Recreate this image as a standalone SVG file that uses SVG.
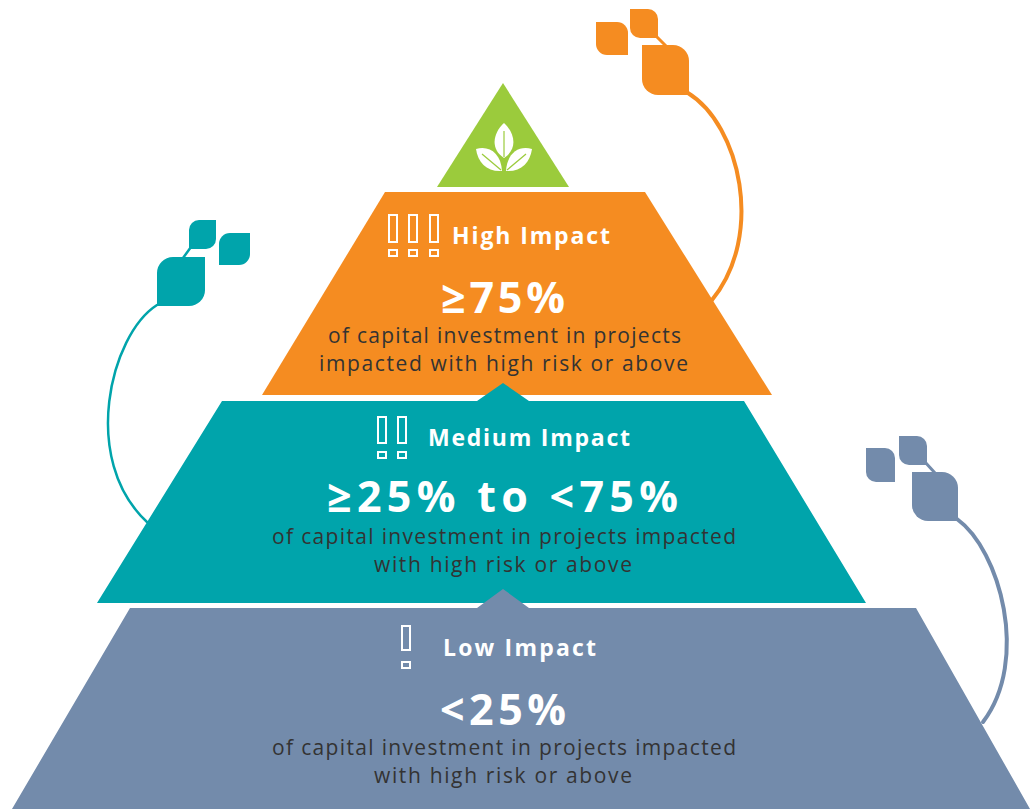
<svg xmlns="http://www.w3.org/2000/svg" width="1030" height="809" viewBox="0 0 1030 809">
  <style>
    .orange { fill: #F58C21; }
    .teal { fill: #00A4AB; }
    .slate { fill: #738BAB; }
    .green { fill: #9BCB3C; }
    .stem { fill: none; stroke-linecap: round; }
    .icon { fill: none; stroke: #FFFFFF; stroke-width: 2; }
    .title { font-family: "Open Sans", "Liberation Sans", sans-serif; font-weight: 700; font-size: 23px; fill: #FFFFFF; }
    .big { font-family: "Open Sans", "Liberation Sans", sans-serif; font-weight: 700; font-size: 43px; fill: #FFFFFF; }
    .desc { font-family: "Open Sans", "Liberation Sans", sans-serif; font-size: 21px; fill: #333333; }
  </style>
  <rect width="1030" height="809" fill="#FFFFFF"/>

  <!-- vines (behind the tiers) -->
  <g id="connectors">
    <path class="stem" d="M688,93 C740,125 765,235 712,300" stroke="#F58C21" stroke-width="4"/>
    <path class="stem" d="M656,36 L666,46" stroke="#F58C21" stroke-width="3"/>
    <path class="stem" d="M157,305 C110,335 80,460 147,522" stroke="#00A4AB" stroke-width="2.5"/>
    <path class="stem" d="M191,247 L183,258" stroke="#00A4AB" stroke-width="2.5"/>
    <path class="stem" d="M957,519 C1000,550 1030,660 983,722" stroke="#738BAB" stroke-width="4"/>
    <path class="stem" d="M925,462 L935,473" stroke="#738BAB" stroke-width="3"/>
  </g>

  <g id="leaves-orange" class="orange">
    <path d="M596,22 H617 A11,11 0 0 1 628,33 V55 H607 A11,11 0 0 1 596,44 Z"/>
    <path d="M630,9 H648 A10,10 0 0 1 658,19 V38 H640 A10,10 0 0 1 630,28 Z"/>
    <path d="M642,45 H673 A16,16 0 0 1 689,61 V95 H658 A16,16 0 0 1 642,79 Z"/>
  </g>
  <g id="leaves-teal" class="teal">
    <path d="M205,257 V290 A16,16 0 0 1 189,306 H157 V273 A16,16 0 0 1 173,257 Z"/>
    <path d="M216,220 V239 A10,10 0 0 1 206,249 H189 V230 A10,10 0 0 1 199,220 Z"/>
    <path d="M250,233 V254 A11,11 0 0 1 239,265 H219 V244 A11,11 0 0 1 230,233 Z"/>
  </g>
  <g id="leaves-slate" class="slate">
    <path d="M866,448 H885 A10,10 0 0 1 895,458 V482 H876 A10,10 0 0 1 866,472 Z"/>
    <path d="M899,436 H917 A10,10 0 0 1 927,446 V465 H909 A10,10 0 0 1 899,455 Z"/>
    <path d="M912,472 H942 A16,16 0 0 1 958,488 V521 H928 A16,16 0 0 1 912,505 Z"/>
  </g>

  <!-- top: plant emblem -->
  <g id="apex">
    <polygon class="green" points="503,83 569,187 437,187"/>
    <path d="M504,123 C493,133 490,149 504,158 C518,149 515,133 504,123 Z" fill="#FFFFFF"/>
    <path d="M504,131 V157" stroke="#9BCB3C" stroke-width="1.2" fill="none"/>
    <path d="M476,149 C489,145 501,153 502,171 C487,172 478,163 476,149 Z" fill="#FFFFFF"/>
    <path d="M482,154 L501,170" stroke="#9BCB3C" stroke-width="1.2" fill="none"/>
    <path d="M532,149 C519,145 507,153 506,171 C521,172 530,163 532,149 Z" fill="#FFFFFF"/>
    <path d="M526,154 L507,170" stroke="#9BCB3C" stroke-width="1.2" fill="none"/>
  </g>

  <!-- tier 1: high impact -->
  <g id="tier-high">
    <polygon class="orange" points="385,192 645,192 772,395 262,395"/>
    <rect class="icon" x="389" y="215" width="8" height="27"/>
    <rect class="icon" x="389" y="250" width="8" height="6"/>
    <rect class="icon" x="409" y="215" width="8" height="27"/>
    <rect class="icon" x="409" y="250" width="8" height="6"/>
    <rect class="icon" x="430" y="215" width="8" height="27"/>
    <rect class="icon" x="430" y="250" width="8" height="6"/>
    <text class="title" x="452" y="244" textLength="158" lengthAdjust="spacing">High Impact</text>
    <text class="big" x="441" y="313" textLength="124" lengthAdjust="spacing">≥75%</text>
    <text class="desc" x="328" y="343" textLength="353" lengthAdjust="spacing">of capital investment in projects</text>
    <text class="desc" x="319" y="371" textLength="369" lengthAdjust="spacing">impacted with high risk or above</text>
  </g>

  <!-- tier 2: medium impact -->
  <g id="tier-medium">
    <polygon class="teal" points="222,401 477,401 503,383 529,401 744,401 866,603 97,603"/>
    <rect class="icon" x="378" y="417" width="8" height="26"/>
    <rect class="icon" x="378" y="452" width="8" height="6"/>
    <rect class="icon" x="398" y="417" width="8" height="26"/>
    <rect class="icon" x="398" y="452" width="8" height="6"/>
    <text class="title" x="428" y="446" textLength="202" lengthAdjust="spacing">Medium Impact</text>
    <text class="big" x="327" y="512" textLength="351" lengthAdjust="spacing">≥25% to &lt;75%</text>
    <text class="desc" x="272" y="544" textLength="464" lengthAdjust="spacing">of capital investment in projects impacted</text>
    <text class="desc" x="374" y="572" textLength="258" lengthAdjust="spacing">with high risk or above</text>
  </g>

  <!-- tier 3: low impact -->
  <g id="tier-low">
    <polygon class="slate" points="130,608 477,608 503,589 529,608 916,608 1030,809 12,809"/>
    <rect class="icon" x="402" y="626" width="8" height="24"/>
    <rect class="icon" x="402" y="662" width="8" height="6"/>
    <text class="title" x="443" y="656" textLength="153" lengthAdjust="spacing">Low Impact</text>
    <text class="big" x="440" y="725" textLength="126" lengthAdjust="spacing">&lt;25%</text>
    <text class="desc" x="272" y="755" textLength="464" lengthAdjust="spacing">of capital investment in projects impacted</text>
    <text class="desc" x="374" y="783" textLength="258" lengthAdjust="spacing">with high risk or above</text>
  </g>
</svg>
